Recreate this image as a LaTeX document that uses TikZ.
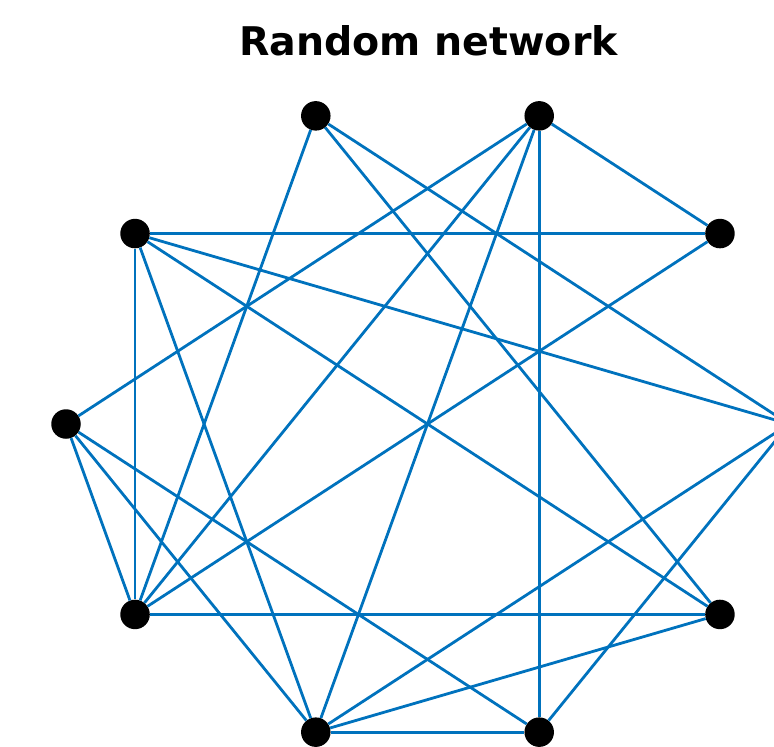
\documentclass[tikz,border=0pt]{standalone}
\usepackage{fontspec}
\setmainfont{DejaVu Sans}
\usetikzlibrary{positioning}
\definecolor{edgeblue}{RGB}{0,114,189}
\tikzset{
  vertex/.style={circle, fill=black, inner sep=0pt, minimum size=29.5pt},
  link/.style={draw=edgeblue, line width=2.8pt},
}
\begin{document}
\begin{tikzpicture}[x=1pt, y=-1pt]
\useasboundingbox (0,0) rectangle (774,747);
\clip (0,0) rectangle (774,747);
\node[font=\fontsize{39.5}{44}\selectfont\bfseries, anchor=base] (title) at (428.5,55) {Random network};
% vertices on the ellipse
\foreach \i in {0,...,9} {
  \node[vertex] (v\i) at ({427.5+361.5*cos(36*\i)}, {424-324*sin(36*\i)}) {};
}
% edges
\foreach \a/\b in {3/6, 3/9, 3/0, 2/1, 2/8, 2/5, 2/6, 2/7, 4/1, 4/6, 4/0, 4/9, 4/7,
                   1/6, 5/6, 5/8, 5/7, 0/7, 0/8, 6/9, 9/7, 7/8}
  \draw[link] (v\a) -- (v\b);
\end{tikzpicture}
\end{document}
